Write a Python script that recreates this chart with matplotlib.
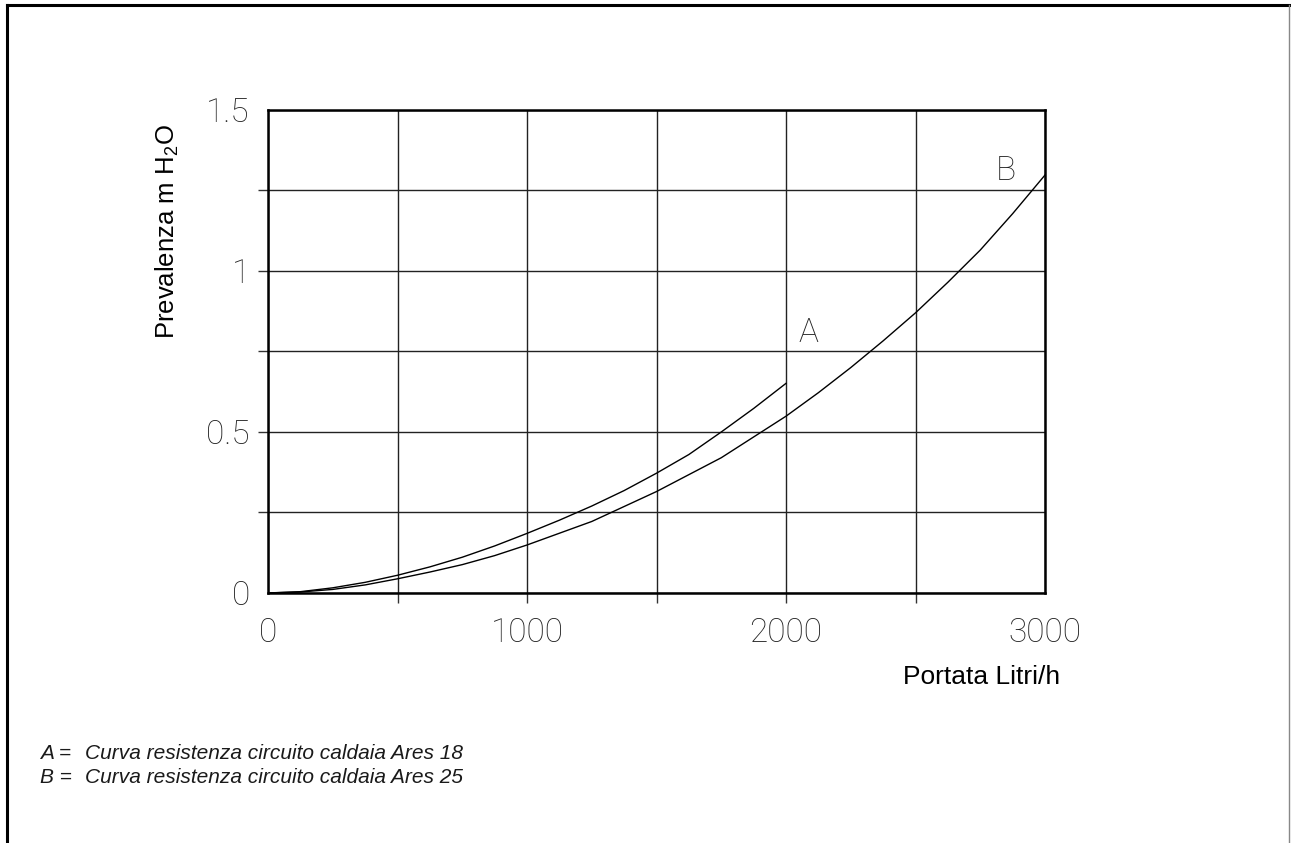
import matplotlib
matplotlib.use("Agg")
import matplotlib.pyplot as plt
from matplotlib.lines import Line2D

# Curve A (Ares 18) and curve B (Ares 25)
flow_a = [0, 125, 250, 375, 500, 625, 750, 875, 1000, 1125, 1250, 1375, 1500,
          1625, 1750, 1875, 2000]
head_a = [0, 0.004, 0.016, 0.033, 0.055, 0.081, 0.111, 0.146, 0.185, 0.226, 0.27,
          0.318, 0.372, 0.43, 0.5, 0.573, 0.651]
flow_b = [0, 125, 250, 375, 500, 625, 750, 875, 1000, 1250, 1500, 1750, 2000,
          2125, 2250, 2375, 2500, 2625, 2750, 2875, 3000]
head_b = [0, 0.003, 0.011, 0.025, 0.044, 0.065, 0.088, 0.116, 0.149, 0.222, 0.315,
          0.42, 0.549, 0.622, 0.70, 0.783, 0.87, 0.965, 1.065, 1.178, 1.298]

x_ticks = [0, 500, 1000, 1500, 2000, 2500, 3000]
x_labels = ["0", "", "1000", "", "2000", "", "3000"]
y_ticks = [0, 0.25, 0.5, 0.75, 1.0, 1.25, 1.5]
y_labels = ["0", "", "0.5", "", "1", "", "1.5"]

notes = ["Curva resistenza circuito caldaia Ares 18",
         "Curva resistenza circuito caldaia Ares 25"]

plt.rcParams["font.family"] = ["Liberation Sans", "DejaVu Sans"]
thin = dict(family="Roboto", fontweight="light", color="#222222")

fig = plt.figure(figsize=(12.91, 8.43), dpi=100)
ax = fig.add_axes([0.2076, 0.2966, 0.6019, 0.5730])

ax.plot(flow_a, head_a, color="k", lw=1.0)
ax.plot(flow_b, head_b, color="k", lw=1.0)

ax.set_xlim(0, 3000)
ax.set_ylim(0, 1.5)
ax.set_xticks(x_ticks)
ax.set_xticklabels(x_labels, **thin)
ax.set_yticks(y_ticks)
ax.set_yticklabels(y_labels, **thin)
ax.tick_params(axis="both", direction="out", length=7, width=1.0, labelsize=24,
               color="#333333")
ax.tick_params(axis="x", pad=10)
ax.tick_params(axis="y", pad=6)
for ticks in (ax.xaxis.get_major_ticks(), ax.yaxis.get_major_ticks()):
    ticks[0].tick1line.set_visible(False)
    ticks[-1].tick1line.set_visible(False)

ax.grid(True, color="#222222", lw=1.0)
for s in ax.spines.values():
    s.set_linewidth(1.8)

ax.text(2085, 0.807, "A", ha="center", va="center", fontsize=24, **thin)
ax.text(2849, 1.31, "B", ha="center", va="center", fontsize=24, **thin)

fig.text(982 / 1291, 1 - 677 / 843, "Portata Litri/h", ha="center", va="center",
         fontsize=19)
fig.text(167 / 1291, 1 - 232 / 843, r"Prevalenza m H$_\mathregular{2}$O",
         rotation=90, ha="center", va="center", fontsize=18.5)

for i, (key, note) in enumerate(zip(["A =", "B ="], notes)):
    y = 1 - (759 + i * 24) / 843
    fig.text(40 / 1291, y, key, fontsize=15, style="italic", va="baseline",
             color="#1a1a1a")
    fig.text(85 / 1291, y, note, fontsize=15, style="italic", va="baseline",
             color="#1a1a1a")

# page frame: left, top, right
fig.add_artist(Line2D([7 / 1291, 7 / 1291], [0, 1 - 5 / 843], color="k", lw=2.2,
                      transform=fig.transFigure))
fig.add_artist(Line2D([7 / 1291, 1290 / 1291], [1 - 5 / 843, 1 - 5 / 843], color="k",
                      lw=2.2, transform=fig.transFigure))
fig.add_artist(Line2D([1289 / 1291, 1289 / 1291], [0, 1 - 5 / 843], color="#888888",
                      lw=1.0, transform=fig.transFigure))

fig.savefig("out.png", dpi=100)
